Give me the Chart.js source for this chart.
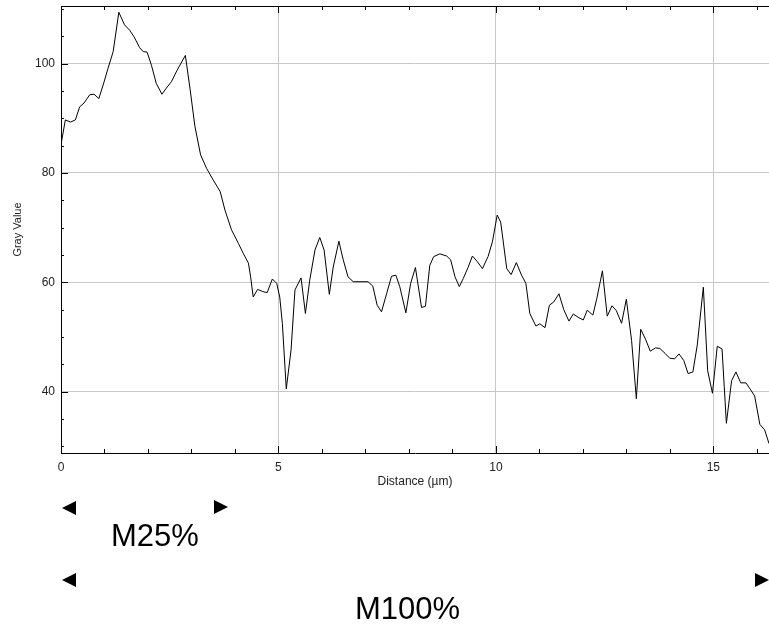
<!DOCTYPE html>
<html><head><meta charset="utf-8">
<script src="https://cdn.jsdelivr.net/npm/chart.js@4.4.1/dist/chart.umd.min.js"></script>
<style>
html,body{margin:0;padding:0;background:#fff;}
#wrap{position:relative;width:769px;height:624px;overflow:hidden;background:#fff;}
#c{position:absolute;left:0;top:0;}
.lbl{position:absolute;font-family:"Liberation Sans",Arial,sans-serif;font-size:31px;line-height:31px;color:#000;white-space:nowrap;}
.tri{position:absolute;width:0;height:0;border-top:7.5px solid transparent;border-bottom:7.5px solid transparent;}
.tl{border-right:14px solid #000;}
.tr{border-left:14px solid #000;}
</style></head>
<body><div id="wrap"><canvas id="c" width="769" height="624"></canvas>
<div class="tri tl" style="left:62px;top:501px"></div>
<div class="tri tr" style="left:214px;top:500px"></div>
<div class="lbl" style="left:111px;top:520px">M25%</div>
<div class="tri tl" style="left:62px;top:573px"></div>
<div class="tri tr" style="left:755px;top:573px"></div>
<div class="lbl" style="left:355px;top:593px">M100%</div>
</div>
<script>
const distance = [0,0.10,0.22,0.33,0.43,0.53,0.66,0.76,0.87,0.97,1.08,1.20,1.33,1.46,1.58,1.68,1.81,1.89,1.98,2.08,2.19,2.32,2.42,2.54,2.67,2.86,2.97,3.08,3.21,3.35,3.50,3.66,3.77,3.92,4.08,4.19,4.31,4.36,4.42,4.52,4.64,4.74,4.86,4.96,5.03,5.09,5.18,5.29,5.38,5.52,5.62,5.72,5.84,5.95,6.05,6.17,6.26,6.39,6.49,6.60,6.72,6.90,7.06,7.17,7.27,7.37,7.49,7.60,7.70,7.79,7.93,8.04,8.15,8.29,8.38,8.48,8.57,8.71,8.87,8.96,9.06,9.16,9.25,9.36,9.46,9.57,9.69,9.82,9.92,10.03,10.11,10.25,10.35,10.47,10.59,10.69,10.78,10.92,11.01,11.13,11.23,11.33,11.45,11.56,11.68,11.78,11.89,12.01,12.10,12.23,12.32,12.45,12.56,12.67,12.77,12.89,13.00,13.12,13.23,13.33,13.44,13.55,13.67,13.77,13.89,14.00,14.11,14.21,14.32,14.42,14.53,14.63,14.77,14.87,14.98,15.09,15.20,15.30,15.42,15.52,15.63,15.75,15.86,15.95,16.07,16.18,16.28];
const grayValue = [85.2,89.7,89.3,89.7,92.1,92.8,94.3,94.4,93.6,96.1,99.1,102.2,109.4,107.1,106.1,104.9,102.9,102.2,102.1,99.7,96.4,94.4,95.5,96.7,98.8,101.5,95.2,88.5,83.3,80.8,78.7,76.6,73.2,69.6,67.1,65.3,63.5,61.0,57.3,58.7,58.3,58.1,60.6,59.8,57.3,52.5,40.5,47.6,58.6,60.8,54.3,60.4,65.9,68.2,65.9,57.8,62.8,67.5,64.1,61.0,60.1,60.1,60.1,59.3,55.8,54.6,58.0,61.1,61.3,59.2,54.4,59.8,62.7,55.4,55.6,63.1,64.7,65.2,64.8,64.1,61.0,59.2,60.7,62.7,64.8,63.8,62.5,64.7,67.4,72.3,71.0,62.5,61.4,63.6,61.3,59.8,54.3,52.0,52.4,51.7,55.8,56.4,57.9,55.0,52.9,54.2,53.6,53.1,54.9,54.0,57.0,62.1,53.8,55.7,54.8,52.5,56.9,49.4,38.7,51.4,49.6,47.4,48.0,47.9,47.0,46.1,46.0,46.9,45.7,43.3,43.6,48.5,59.1,43.8,39.7,48.3,47.8,34.2,42.0,43.6,41.6,41.6,40.3,39.2,34.0,33.0,30.5];
const xTickLabels = [0,5,10,15];
const yTickLabels = [40,60,80,100];
const xMin = 0, xMax = 16.28, yMin = 28.77, yMax = 110.54;

const FONT = '"Liberation Sans", Arial, sans-serif';
const innerTicks = {
  id: 'innerTicks',
  afterDraw(chart) {
    const {ctx, chartArea: a, scales: {x, y}} = chart;
    ctx.save();
    ctx.strokeStyle = '#000';
    ctx.lineWidth = 1;
    ctx.beginPath();
    ctx.moveTo(a.left, a.top + 0.5); ctx.lineTo(a.right, a.top + 0.5);
    for (const t of x.ticks) {
      const px = Math.round(x.getPixelForValue(t.value)) + 0.5;
      const len = xTickLabels.includes(t.value) ? 7 : 4;
      ctx.moveTo(px, a.bottom); ctx.lineTo(px, a.bottom - len);
      ctx.moveTo(px, a.top); ctx.lineTo(px, a.top + len);
    }
    for (const t of y.ticks) {
      const py = Math.round(y.getPixelForValue(t.value)) + 0.5;
      const len = yTickLabels.includes(t.value) ? 7 : 3;
      ctx.moveTo(a.left, py); ctx.lineTo(a.left + len, py);
    }
    ctx.stroke();
    ctx.restore();
  }
};

new Chart(document.getElementById('c'), {
  type: 'line',
  data: {
    datasets: [{
      data: distance.map((d, i) => ({x: d, y: grayValue[i]})),
      borderColor: '#000',
      borderWidth: 1,
      pointRadius: 0,
      tension: 0,
      fill: false
    }]
  },
  options: {
    responsive: false,
    animation: false,
    devicePixelRatio: 1,
    layout: {padding: {top: 6, right: 0, left: 0, bottom: 131}},
    plugins: {legend: {display: false}, tooltip: {enabled: false}},
    scales: {
      x: {
        type: 'linear', min: xMin, max: xMax,
        afterFit(s) { s.height = 40; s.paddingLeft = 0; s.paddingRight = 0; },
        ticks: {
          stepSize: 1, includeBounds: false, autoSkip: false, maxRotation: 0, padding: 7,
          color: '#222', font: {family: FONT, size: 12},
          callback: v => xTickLabels.includes(v) ? String(v) : ''
        },
        grid: {
          drawTicks: false,
          color: c => (c.tick && xTickLabels.includes(c.tick.value) && c.tick.value !== 0) ? '#c8c8c8' : 'rgba(0,0,0,0)'
        },
        border: {display: true, color: '#000', width: 1},
        title: {display: true, text: 'Distance (µm)', color: '#222', font: {family: FONT, size: 12}, padding: {top: 0, bottom: 4}}
      },
      y: {
        type: 'linear', min: yMin, max: yMax,
        afterFit(s) { s.width = 61; s.paddingTop = 0; s.paddingBottom = 0; },
        ticks: {
          stepSize: 5, includeBounds: false, autoSkip: false, padding: 6,
          color: '#222', font: {family: FONT, size: 12},
          callback: v => yTickLabels.includes(v) ? String(v) : ''
        },
        grid: {
          drawTicks: false,
          color: c => (c.tick && yTickLabels.includes(c.tick.value)) ? '#c8c8c8' : 'rgba(0,0,0,0)'
        },
        border: {display: true, color: '#000', width: 1},
        title: {display: true, text: 'Gray Value', color: '#222', font: {family: FONT, size: 11}, padding: {top: 11, bottom: 0}}
      }
    }
  },
  plugins: [innerTicks]
});
</script>
</body></html>
